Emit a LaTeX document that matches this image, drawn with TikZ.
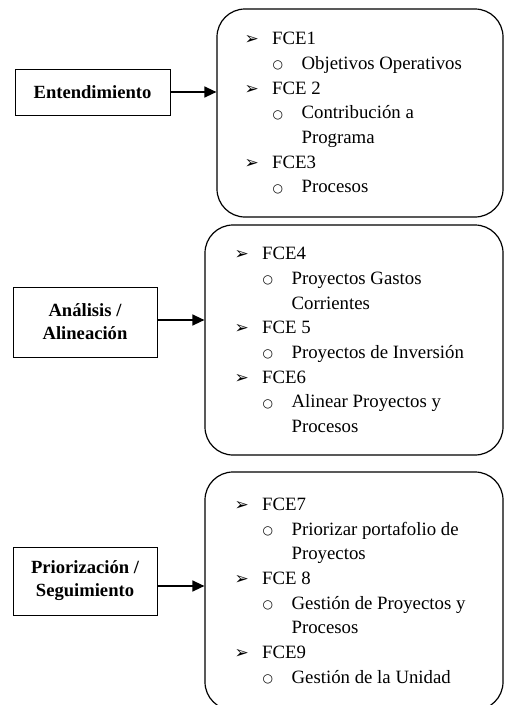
\documentclass[tikz,border=0pt]{standalone}
\usepackage{fontspec}
\setmainfont{Liberation Serif}
\newfontfamily\dingfont{DejaVu Sans}
\usetikzlibrary{arrows.meta}

% list bullets: arrowhead for the first level, small circle for the second
\newcommand{\arrowmark}{{\dingfont\fontsize{17}{17}\selectfont ➢}}
\newcommand{\circmark}{\raisebox{0.8pt}{\dingfont\fontsize{12}{12}\selectfont ○}}
\newcommand{\itemA}[1]{\makebox[27.5pt][l]{\arrowmark}#1}
\newcommand{\itemB}[1]{\hspace*{28pt}\makebox[29pt][l]{\circmark}#1}
\newcommand{\itemC}[1]{\hspace*{57pt}#1}

\tikzset{
  bigbox/.style={draw, line width=1.2pt, rounded corners=28pt, inner sep=0pt},
  stagebox/.style={draw, line width=0.9pt, inner sep=0pt, align=center,
    font=\bfseries\fontsize{18.6}{23}\selectfont},
  listtext/.style={anchor=west, inner sep=0pt, align=left,
    font=\fontsize{18.8}{24.7}\selectfont},
  flow/.style={line width=1.4pt, -{Triangle[length=12pt,width=11pt]}}
}

\begin{document}
\begin{tikzpicture}[x=1pt,y=-1pt]
\useasboundingbox (0,0) rectangle (504,705);

% rounded boxes holding the FCE lists
\node[bigbox, minimum width=286pt, minimum height=208pt] (b1) at (360,113) {};
\node[bigbox, minimum width=298pt, minimum height=230pt] (b2) at (354,340) {};
\node[bigbox, minimum width=298pt, minimum height=238pt] (b3) at (354,591) {};

\node[listtext] (t1) at ([xshift=28pt]b1.west) {%
\itemA{FCE1}\\
\itemB{Objetivos Operativos}\\
\itemA{FCE 2}\\
\itemB{Contribución a}\\
\itemC{Programa}\\
\itemA{FCE3}\\
\itemB{Procesos}};

\node[listtext] (t2) at ([xshift=30pt]b2.west) {%
\itemA{FCE4}\\
\itemB{Proyectos Gastos}\\
\itemC{Corrientes}\\
\itemA{FCE 5}\\
\itemB{Proyectos de Inversión}\\
\itemA{FCE6}\\
\itemB{Alinear Proyectos y}\\
\itemC{Procesos}};

\node[listtext] (t3) at ([xshift=30pt]b3.west) {%
\itemA{FCE7}\\
\itemB{Priorizar portafolio de}\\
\itemC{Proyectos}\\
\itemA{FCE 8}\\
\itemB{Gestión de Proyectos y}\\
\itemC{Procesos}\\
\itemA{FCE9}\\
\itemB{Gestión de la Unidad}};

% stage labels
\node[stagebox, minimum width=155pt, minimum height=46pt] (r1) at (92.5,92) {Entendimiento};
\node[stagebox, minimum width=144pt, minimum height=70pt] (r2) at (85,322) {Análisis /\\Alineación};
\node[stagebox, minimum width=144pt, minimum height=68pt] (r3) at (85,581) {Priorización /\\Seguimiento};

% connectors
\draw[flow] (r1.east) -- (r1.east -| b1.west);
\draw[flow] ([yshift=2pt]r2.east) -- ([yshift=2pt]r2.east -| b2.west);
\draw[flow] ([yshift=-5pt]r3.east) -- ([yshift=-5pt]r3.east -| b3.west);
\end{tikzpicture}
\end{document}
